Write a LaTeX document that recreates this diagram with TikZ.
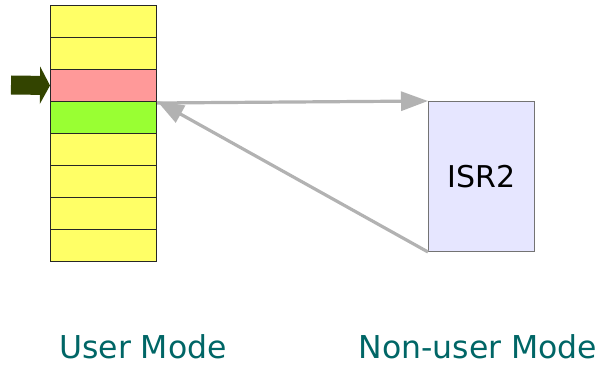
\documentclass[tikz,border=0pt]{standalone}
\usepackage{fontspec}
\setmainfont{DejaVu Sans}
\usepackage{tikz}
\usetikzlibrary{calc}
\usetikzlibrary{arrows.meta}

\definecolor{cellYellow}{HTML}{FFFF66}
\definecolor{cellRed}{HTML}{FF9999}
\definecolor{cellGreen}{HTML}{99FF33}
\definecolor{isrFill}{HTML}{E6E6FF}
\definecolor{pointerGreen}{HTML}{334400}
\definecolor{modeText}{HTML}{006666}

\begin{document}
\begin{tikzpicture}[x=1pt, y=-1pt,
	cell/.style={draw=black!85, line width=1pt, fill=cellYellow, minimum width=106pt, minimum height=32pt, inner sep=0pt, anchor=north west},
	flow/.style={draw=black!30, line width=3.2pt, -{Triangle[length=27pt, width=19pt]}},
	mode/.style={text=modeText, font=\fontsize{31.5}{36}\selectfont}]

	\useasboundingbox (0,0) rectangle (604,366);

% Define nodes.

	%stack of cells
	\node[cell] (cell1) at (50, 5) {};
	\node[cell] (cell2) at (50, 37) {};
	\node[cell, fill=cellRed] (cell3) at (50, 69) {};
	\node[cell, fill=cellGreen] (cell4) at (50, 101) {};
	\node[cell] (cell5) at (50, 133) {};
	\node[cell] (cell6) at (50, 165) {};
	\node[cell] (cell7) at (50, 197) {};
	\node[cell] (cell8) at (50, 229) {};

	%interrupt routine
	\node[draw=black!55, line width=1pt, fill=isrFill, minimum width=106pt, minimum height=150pt, inner sep=0pt, anchor=north west, font=\fontsize{30}{36}\selectfont] (isr) at (428, 101) {ISR2};

	%labels
	\node[mode] (user) at (143, 347) {User Mode};
	\node[mode] (nonuser) at (478, 347) {Non-user Mode};

	%pointer tail
	\coordinate (pointerTail) at (11, 85);

% Draw arrows.

	\draw[line width=19pt, pointerGreen, -{Triangle[length=10pt, width=37pt]}] (pointerTail) -- (cell3.west);

	\draw[flow] ($(cell4.north east)+(0,2)$) -- (isr.north west);
	\draw[flow] (isr.south west) -- (cell4.north east);

\end{tikzpicture}
\end{document}
